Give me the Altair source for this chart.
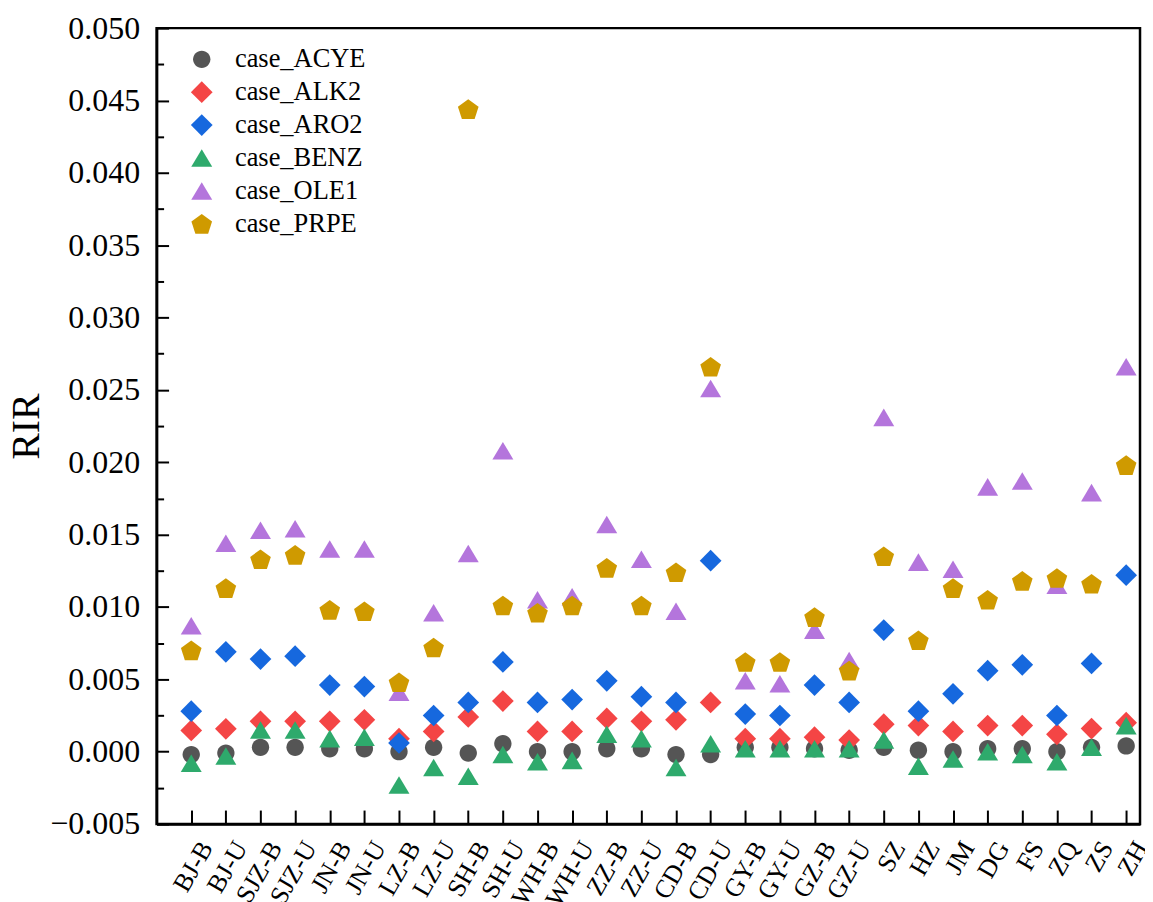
import altair as alt
import pandas as pd

sites = ["BJ-B", "BJ-U", "SJZ-B", "SJZ-U", "JN-B", "JN-U", "LZ-B", "LZ-U",
         "SH-B", "SH-U", "WH-B", "WH-U", "ZZ-B", "ZZ-U", "CD-B", "CD-U",
         "GY-B", "GY-U", "GZ-B", "GZ-U", "SZ", "HZ", "JM", "DG", "FS", "ZQ",
         "ZS", "ZH"]

series_names = ["case_ACYE", "case_ALK2", "case_ARO2", "case_BENZ",
                "case_OLE1", "case_PRPE"]

acye = [-0.0002, -0.0001, 0.0003, 0.0003, 0.0002, 0.0002, 0.0000, 0.0003,
        -0.0001, 0.00055, 0.0000, 0.0000, 0.0002, 0.0002, -0.0002, -0.0002,
        0.0003, 0.0003, 0.0002, 0.0001, 0.0003, 0.0001, 0.0000, 0.0002,
        0.0002, 0.0000, 0.0003, 0.0004]
alk2 = [0.00147, 0.00158, 0.0021, 0.0021, 0.0021, 0.0022, 0.0009, 0.0014,
        0.0024, 0.0035, 0.0014, 0.0014, 0.0023, 0.0021, 0.0022, 0.0034,
        0.0009, 0.0009, 0.0010, 0.0008, 0.0019, 0.0018, 0.0014, 0.0018,
        0.0018, 0.0012, 0.0016, 0.0020]
aro2 = [0.0028, 0.0069, 0.0064, 0.0066, 0.0046, 0.0045, 0.0006, 0.0025,
        0.0034, 0.0062, 0.0034, 0.0036, 0.0049, 0.0038, 0.0034, 0.0132,
        0.0026, 0.0025, 0.0046, 0.0034, 0.0084, 0.0028, 0.0040, 0.0056,
        0.0060, 0.0025, 0.0061, 0.0122]
benz = [-0.0008, -0.0003, 0.0015, 0.0015, 0.0009, 0.0010, -0.0023, -0.0011,
        -0.0017, -0.0002, -0.0007, -0.0006, 0.0012, 0.0009, -0.0011, 0.00055,
        0.0002, 0.0002, 0.0002, 0.0002, 0.0008, -0.0010, -0.0005, 0.0000,
        -0.0002, -0.0007, 0.0003, 0.0018]
ole1 = [0.0087, 0.0144, 0.0153, 0.0154, 0.0140, 0.0140, 0.0041, 0.0096,
        0.0137, 0.0208, 0.0105, 0.0107, 0.0157, 0.0133, 0.0097, 0.0251,
        0.0049, 0.0047, 0.0084, 0.0063, 0.0231, 0.0131, 0.0126, 0.0183,
        0.0187, 0.0115, 0.0179, 0.0266]
prpe = [0.0070, 0.0113, 0.0133, 0.0136, 0.0098, 0.0097, 0.0048, 0.0072,
        0.0444, 0.0101, 0.0096, 0.0101, 0.0127, 0.0101, 0.0124, 0.0266,
        0.0062, 0.0062, 0.0093, 0.0056, 0.0135, 0.0077, 0.0113, 0.0105,
        0.0118, 0.0120, 0.0116, 0.0198]

colors = ["#555555", "#F44545", "#1668DE", "#2EAA6C", "#B475DC", "#CF9A00"]

# marker outlines (unit space, scaled by the common symbol size)
circle_path = ("M0.79,0A0.79,0.79 0 1,1 -0.79,0"
               "A0.79,0.79 0 1,1 0.79,0Z")
diamond_path = "M-0.99,0L0,-0.99L0.99,0L0,0.99Z"
triangle_path = "M0,-0.8L0.955,0.8L-0.955,0.8Z"
pentagon_path = ("M0,-0.895L0.941,-0.212L0.581,0.894L-0.581,0.894"
                 "L-0.941,-0.212Z")
shapes = [circle_path, diamond_path, diamond_path, triangle_path,
          triangle_path, pentagon_path]
SYMBOL_SIZE = 484

rows = []
for name, vals in zip(series_names, [acye, alk2, aro2, benz, ole1, prpe]):
    for i, (site, v) in enumerate(zip(sites, vals)):
        rows.append({"series": name, "idx": i + 1, "site": site, "RIR": v})
df = pd.DataFrame(rows)

label_expr = "[" + ",".join("'%s'" % s for s in sites) + "][datum.value - 1]"
major_vals = [round(-0.005 + 0.005 * k, 4) for k in range(12)]
minor_vals = [round(-0.005 + 0.0025 * k, 5) for k in range(23)]
idx_vals = list(range(1, len(sites) + 1))

FONT = "Liberation Serif"
W, H = 986, 798

x_scale = alt.Scale(domain=[0, 28.4], nice=False, zero=False)
y_scale = alt.Scale(domain=[-0.005, 0.05], nice=False, zero=False)

legend = alt.Legend(
    title=None, orient="none", legendX=32, legendY=18,
    labelFont=FONT, labelFontSize=26.5, labelColor="black",
    symbolSize=SYMBOL_SIZE, symbolStrokeWidth=0, symbolOpacity=1,
    rowPadding=6, labelOffset=20, padding=0,
)

points = alt.Chart(df).mark_point(
    filled=True, opacity=1, strokeWidth=0, size=SYMBOL_SIZE
).encode(
    x=alt.X("idx:Q", scale=x_scale, axis=alt.Axis(
        orient="bottom", values=idx_vals, labelExpr=label_expr,
        ticks=False, tickSize=0, labelAngle=300, labelFont=FONT,
        labelFontSize=26, labelColor="black", labelPadding=19,
        labelOffset=15, labelAlign="right", labelBaseline="middle",
        domainWidth=2.5, domainColor="black", grid=False, title=None,
        labelFlush=False, labelOverlap=False)),
    y=alt.Y("RIR:Q", scale=y_scale, axis=alt.Axis(
        orient="left", values=major_vals, format=".3f", ticks=False,
        tickSize=0, labelFont=FONT, labelFontSize=32, labelColor="black",
        labelPadding=17, domainWidth=2.5, domainColor="black", grid=False,
        title="RIR", titleFont=FONT, titleFontSize=40,
        titleFontWeight="normal", titleColor="black", titleX=-130,
        titleY=399, titleAngle=270, titleAlign="center",
        titleBaseline="middle", labelFlush=False, labelOverlap=False)),
    color=alt.Color("series:N", scale=alt.Scale(domain=series_names,
                    range=colors), legend=legend),
    shape=alt.Shape("series:N", scale=alt.Scale(domain=series_names,
                    range=shapes), legend=legend),
)

tick_layer = alt.Chart(df).mark_point(opacity=0).encode(
    x=alt.X("idx:Q", scale=x_scale, axis=alt.Axis(
        orient="top", offset=-H, values=idx_vals, labels=False,
        domain=False, ticks=True, tickSize=14, tickWidth=2,
        tickColor="black", grid=False, title=None)),
    y=alt.Y("RIR:Q", scale=y_scale, axis=alt.Axis(
        orient="right", offset=-W, values=minor_vals, labels=False,
        domain=False, ticks=True,
        tickSize={"condition": {"test": "abs(round(datum.value * 400)) % 2 == 1",
                                "value": 7}, "value": 12},
        tickWidth=2, tickColor="black", grid=False, title=None)),
)

chart = alt.layer(tick_layer, points).resolve_scale(
    x="independent", y="independent"
).properties(
    width=W, height=H,
    padding={"left": 149, "top": 19, "right": 5, "bottom": 77},
    autosize=alt.AutoSizeParams(type="none"),
    background="white",
).configure_view(stroke="black", strokeWidth=2.5)

chart.save("out.html", embed_options={"renderer": "svg", "actions": False})
